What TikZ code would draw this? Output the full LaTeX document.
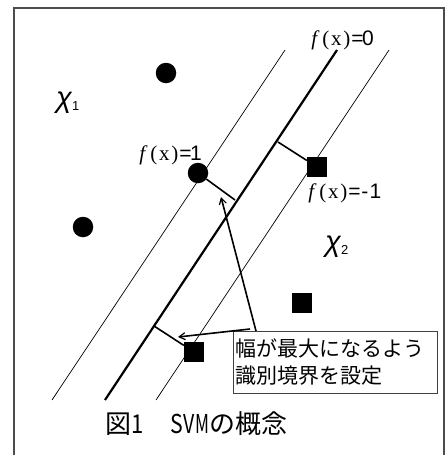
\documentclass[tikz,border=0pt]{standalone}
\usepackage{fontspec}
\setmainfont{Liberation Serif}
\newfontfamily\cjkfont{Noto Sans CJK JP}
\newfontfamily\sansfont{Liberation Sans}
\usetikzlibrary{arrows.meta}
\newcommand\halfw[1]{\makebox[0.5em][c]{#1}}
\newcommand\halfwc[2][0.85]{\makebox[0.5em][c]{\scalebox{#1}[1]{#2}}}
\begin{document}
\begin{tikzpicture}[x=1pt,y=-1pt,
  framestyle/.style={draw=black!70, line width=1.4},
  thinline/.style={line width=0.7},
  thickline/.style={line width=2.2},
  perp/.style={line width=1.6},
  arr/.style={line width=1.6, -{Straight Barb[length=6pt,width=7pt,line width=1.2pt]}},
  dot/.style={circle, fill=black, minimum size=20.5, inner sep=0},
  sq/.style={rectangle, fill=black, minimum size=20, inner sep=0},
  flabel/.style={inner sep=0, anchor=west, font=\fontsize{21}{21}\selectfont},
  chilabel/.style={inner sep=0, anchor=west, font=\sansfont\itshape\fontsize{29}{29}\selectfont},
  msgbox/.style={draw=black!75, line width=0.8, anchor=north west, inner sep=2, text width=200, minimum height=62, align=left, font=\cjkfont\fontsize{21}{27}\selectfont}
]
\useasboundingbox (0,0) rectangle (445,455);
% frame
\draw[framestyle] (14,455) -- (14,8) -- (444,8) -- (444,455);
% boundary lines
\coordinate (lT) at (285,50); \coordinate (lB) at (52,400);
\coordinate (mT) at (337,50); \coordinate (mB) at (105,400);
\coordinate (rT) at (389,50); \coordinate (rB) at (156,400);
\draw[thinline] (lT) -- (lB);
\draw[thickline] (mT) -- (mB);
\draw[thinline] (rT) -- (rB);
% points
\node[dot] (c1) at (166,73) {};
\node[dot] (c2) at (198,173) {};
\node[dot] (c3) at (83,227) {};
\node[sq] (s1) at (317,167) {};
\node[sq] (s2) at (302,303) {};
\node[sq] (s3) at (194,352) {};
% margins
\coordinate (p1) at (235,200);
\coordinate (p2) at (278,142);
\coordinate (p3) at (154,326);
\draw[perp] (c2) -- (p1);
\draw[perp] (p2) -- (s1);
\draw[perp] (p3) -- (s3);
% labels
\node[flabel] (f0) at (310,40) {\halfw{\textit{f}}\halfw{(}\halfw{x}\halfw{)}{\sansfont\halfw{=}\halfw{0}}};
\node[flabel] (f1) at (138,155) {\halfw{\textit{f}}\halfw{(}\halfw{x}\halfw{)}{\sansfont\halfw{=}\halfw{1}}};
\node[flabel] (fm1) at (307,193) {\halfw{\textit{f}}\halfw{(}\halfw{x}\halfw{)}{\sansfont\halfw{=}\halfw{-}\halfw{1}}};
\node[chilabel] (x1) at (56,103) {χ\raisebox{-3pt}{\upshape\fontsize{13}{13}\selectfont 1}};
\node[chilabel] (x2) at (325,247) {χ\raisebox{-3pt}{\upshape\fontsize{13}{13}\selectfont 2}};
% message box
\node[msgbox] (msg) at (233,331) {幅が最大になるよう\\識別境界を設定};
\coordinate (src1) at (256,331);
\coordinate (src2) at (250,329);
\draw[arr] (src1) -- (221,197);
\draw[arr] (src2) -- (178,337);
% caption
\node[inner sep=0, font=\cjkfont\fontsize{26}{26}\selectfont] (cap) at (196,424) {図\halfwc{1}　\halfwc[0.82]{S}\halfwc[0.75]{V}\halfwc[0.66]{M}の概念};
\end{tikzpicture}
\end{document}
